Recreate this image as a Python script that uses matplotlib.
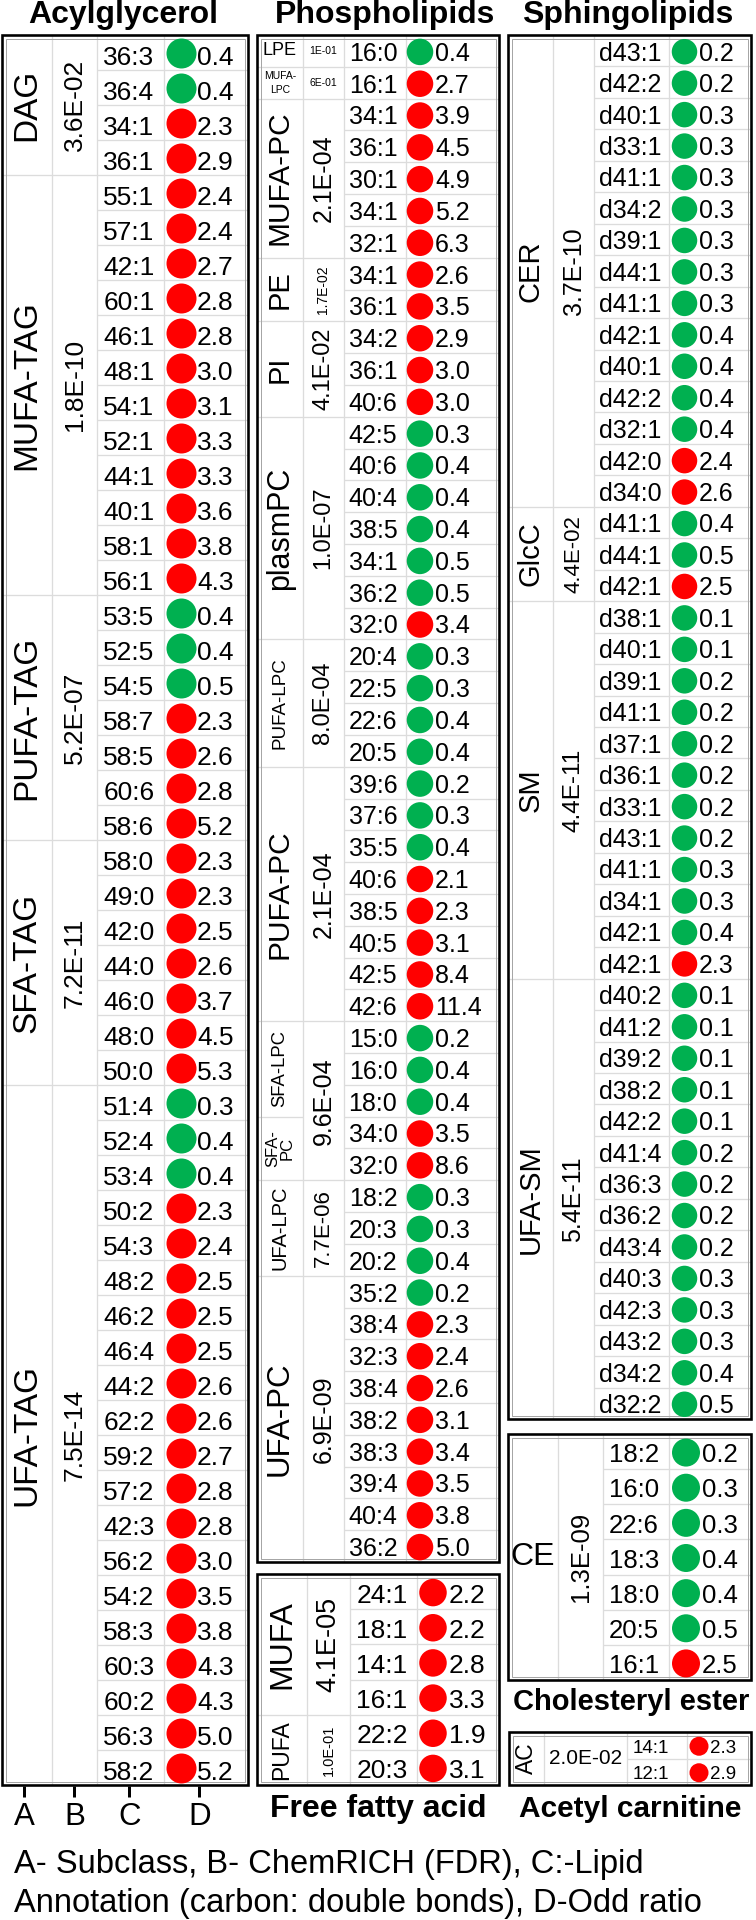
import matplotlib
matplotlib.use('Agg')
import matplotlib.pyplot as plt
from matplotlib.patches import Ellipse, Rectangle

plt.rcParams['font.family'] = ['Liberation Sans', 'DejaVu Sans']

# ------------------------------------------------------------------ data
acyl_subclass = ["DAG", "MUFA-TAG", "PUFA-TAG", "SFA-TAG", "UFA-TAG"]
acyl_counts = [4, 12, 7, 7, 20]
acyl_fdr = ["3.6E-02", "1.8E-10", "5.2E-07", "7.2E-11", "7.5E-14"]
acyl_lipids = ["36:3", "36:4", "34:1", "36:1",
               "55:1", "57:1", "42:1", "60:1", "46:1", "48:1", "54:1", "52:1", "44:1", "40:1", "58:1", "56:1",
               "53:5", "52:5", "54:5", "58:7", "58:5", "60:6", "58:6",
               "58:0", "49:0", "42:0", "44:0", "46:0", "48:0", "50:0",
               "51:4", "52:4", "53:4", "50:2", "54:3", "48:2", "46:2", "46:4", "44:2", "62:2",
               "59:2", "57:2", "42:3", "56:2", "54:2", "58:3", "60:3", "60:2", "56:3", "58:2"]
acyl_odds = [0.4, 0.4, 2.3, 2.9,
             2.4, 2.4, 2.7, 2.8, 2.8, 3.0, 3.1, 3.3, 3.3, 3.6, 3.8, 4.3,
             0.4, 0.4, 0.5, 2.3, 2.6, 2.8, 5.2,
             2.3, 2.3, 2.5, 2.6, 3.7, 4.5, 5.3,
             0.3, 0.4, 0.4, 2.3, 2.4, 2.5, 2.5, 2.5, 2.6, 2.6,
             2.7, 2.8, 2.8, 3.0, 3.5, 3.8, 4.3, 4.3, 5.0, 5.2]

phos_subclass = ["LPE", "MUFA-\nLPC", "MUFA-PC", "PE", "PI", "plasmPC", "PUFA-LPC", "PUFA-PC",
                 "SFA-LPC", "SFA-\nPC", "UFA-LPC", "UFA-PC"]
phos_counts = [1, 1, 5, 2, 3, 7, 4, 8, 3, 2, 3, 9]
phos_fdr = ["1E-01", "6E-01", "2.1E-04", "1.7E-02", "4.1E-02", "1.0E-07", "8.0E-04", "2.1E-04",
            "9.6E-04", "7.7E-06", "6.9E-09"]
phos_fdr_counts = [1, 1, 5, 2, 3, 7, 4, 8, 5, 3, 9]
phos_lipids = ["16:0", "16:1",
               "34:1", "36:1", "30:1", "34:1", "32:1",
               "34:1", "36:1",
               "34:2", "36:1", "40:6",
               "42:5", "40:6", "40:4", "38:5", "34:1", "36:2", "32:0",
               "20:4", "22:5", "22:6", "20:5",
               "39:6", "37:6", "35:5", "40:6", "38:5", "40:5", "42:5", "42:6",
               "15:0", "16:0", "18:0",
               "34:0", "32:0",
               "18:2", "20:3", "20:2",
               "35:2", "38:4", "32:3", "38:4", "38:2", "38:3", "39:4", "40:4", "36:2"]
phos_odds = [0.4, 2.7,
             3.9, 4.5, 4.9, 5.2, 6.3,
             2.6, 3.5,
             2.9, 3.0, 3.0,
             0.3, 0.4, 0.4, 0.4, 0.5, 0.5, 3.4,
             0.3, 0.3, 0.4, 0.4,
             0.2, 0.3, 0.4, 2.1, 2.3, 3.1, 8.4, 11.4,
             0.2, 0.4, 0.4,
             3.5, 8.6,
             0.3, 0.3, 0.4,
             0.2, 2.3, 2.4, 2.6, 3.1, 3.4, 3.5, 3.8, 5.0]

sphingo_subclass = ["CER", "GlcC", "SM", "UFA-SM"]
sphingo_counts = [15, 3, 12, 14]
sphingo_fdr = ["3.7E-10", "4.4E-02", "4.4E-11", "5.4E-11"]
sphingo_lipids = ["d43:1", "d42:2", "d40:1", "d33:1", "d41:1", "d34:2", "d39:1", "d44:1", "d41:1",
                  "d42:1", "d40:1", "d42:2", "d32:1", "d42:0", "d34:0",
                  "d41:1", "d44:1", "d42:1",
                  "d38:1", "d40:1", "d39:1", "d41:1", "d37:1", "d36:1", "d33:1", "d43:1", "d41:1",
                  "d34:1", "d42:1", "d42:1",
                  "d40:2", "d41:2", "d39:2", "d38:2", "d42:2", "d41:4", "d36:3", "d36:2", "d43:4",
                  "d40:3", "d42:3", "d43:2", "d34:2", "d32:2"]
sphingo_odds = [0.2, 0.2, 0.3, 0.3, 0.3, 0.3, 0.3, 0.3, 0.3, 0.4, 0.4, 0.4, 0.4, 2.4, 2.6,
                0.4, 0.5, 2.5,
                0.1, 0.1, 0.2, 0.2, 0.2, 0.2, 0.2, 0.2, 0.3, 0.3, 0.4, 2.3,
                0.1, 0.1, 0.1, 0.1, 0.1, 0.2, 0.2, 0.2, 0.2, 0.3, 0.3, 0.3, 0.4, 0.5]

ce_subclass = ["CE"]
ce_counts = [7]
ce_fdr = ["1.3E-09"]
ce_lipids = ["18:2", "16:0", "22:6", "18:3", "18:0", "20:5", "16:1"]
ce_odds = [0.2, 0.3, 0.3, 0.4, 0.4, 0.5, 2.5]

ffa_subclass = ["MUFA", "PUFA"]
ffa_counts = [4, 2]
ffa_fdr = ["4.1E-05", "1.0E-01"]
ffa_lipids = ["24:1", "18:1", "14:1", "16:1", "22:2", "20:3"]
ffa_odds = [2.2, 2.2, 2.8, 3.3, 1.9, 3.1]

ac_subclass = ["AC"]
ac_counts = [2]
ac_fdr = ["2.0E-02"]
ac_lipids = ["14:1", "12:1"]
ac_odds = [2.3, 2.9]

axis_letters = ["A", "B", "C", "D"]
legend_lines = ["A- Subclass, B- ChemRICH (FDR), C:-Lipid",
                "Annotation (carbon: double bonds), D-Odd ratio"]

# ------------------------------------------------------------------ drawing
W, H = 756, 1920
fig = plt.figure(figsize=(W / 100, H / 100), dpi=100)
ax = fig.add_axes([0, 0, 1, 1])
ax.set_xlim(0, W)
ax.set_ylim(H, 0)
ax.axis('off')

PX = 0.72
GRID = '#dcdcdc'
GREEN = '#00b050'
RED = '#ff0000'


def hline(x0, x1, y, color=GRID, lw=1.3):
    ax.plot([x0, x1], [y, y], color=color, lw=lw * PX, solid_capstyle='butt', zorder=1)


def vline(x, y0, y1, color=GRID, lw=1.3):
    ax.plot([x, x], [y0, y1], color=color, lw=lw * PX, solid_capstyle='butt', zorder=1)


def frame(x0, y0, x1, y1):
    ax.add_patch(Rectangle((x0 + 3.5, y0 + 3.5), x1 - x0 - 7, y1 - y0 - 7, fill=False,
                           ec='#a6a6a6', lw=1.0 * PX, zorder=2))
    ax.add_patch(Rectangle((x0, y0), x1 - x0, y1 - y0, fill=False, ec='black',
                           lw=2.6 * PX, zorder=3))


def groups(labels, counts, styles, xa, xb, y0, rh, line_x0, line_x1):
    start = 0
    for lab, cnt, st in zip(labels, counts, styles):
        ya = y0 + start * rh
        yb = y0 + (start + cnt) * rh
        if start > 0:
            hline(line_x0, line_x1, ya)
        fs, rot = st[0], st[1]
        ls = st[2] if len(st) > 2 else 1.2
        ax.text((xa + xb) / 2 + (st[3] if len(st) > 3 else 0), (ya + yb) / 2, lab,
                fontsize=fs, rotation=rot, ha='center', va='center',
                multialignment='center', linespacing=ls, zorder=4)
        start += cnt


def panel(box, cols, a_lab, a_cnt, a_sty, b_lab, b_cnt, b_sty, lipids, odds,
          ccx, cfs, cx, dia, vx, vfs, toff=2.0):
    x0, y0, x1, y1 = box
    ca, cb, cc = cols
    n = len(lipids)
    rh = (y1 - y0) / n
    for c in cols:
        vline(c, y0, y1)
    for i in range(1, n):
        hline(cb, x1, y0 + i * rh)
    groups(a_lab, a_cnt, a_sty, x0, ca, y0, rh, x0, ca)
    groups(b_lab, b_cnt, b_sty, ca, cb, y0, rh, ca, cb)
    for i, (lip, o) in enumerate(zip(lipids, odds)):
        yc = y0 + (i + 0.5) * rh
        base = yc + 0.5 * 0.716 * cfs / PX + toff
        ax.text(ccx, base, lip, fontsize=cfs, ha='center', va='baseline', zorder=4)
        ax.add_patch(Ellipse((cx, yc + 1.0), dia, dia, color=GREEN if o < 1 else RED,
                             lw=0, zorder=4))
        vb = yc + 0.5 * 0.716 * vfs / PX + toff
        ax.text(vx, vb, f'{o:.1f}', fontsize=vfs, ha='left', va='baseline', zorder=5)
    frame(x0, y0, x1, y1)


# Acylglycerol
panel((2, 35, 248, 1785), (52, 97, 164),
      acyl_subclass, acyl_counts, [(24, 90)] * 5,
      acyl_fdr, acyl_counts, [(19, 90)] * 5,
      acyl_lipids, acyl_odds, 129, 19, 181.5, 30, 197, 19, toff=3.0)

# Phospholipids
phos_a_styles = [(13, 0), (7.5, 0, 1.45), (21.5, 90), (21, 90), (21, 90), (22, 90), (13.5, 90),
                 (21.5, 90), (13.3, 90), (12, 90, 1.0), (14.5, 90), (22.5, 90)]
phos_b_styles = [(7.5, 0), (7.5, 0), (18, 90), (10, 90), (17, 90), (17, 90), (17, 90),
                 (18, 90), (18, 90), (16, 90), (18, 90)]
panel((257, 35, 499, 1562), (303, 344, 406),
      phos_subclass, phos_counts, phos_a_styles,
      phos_fdr, phos_fdr_counts, phos_b_styles,
      phos_lipids, phos_odds, 373, 18, 420, 26.5, 435, 18, toff=1.0)

# Sphingolipids
panel((508, 35, 751, 1419), (553, 594, 669),
      sphingo_subclass, sphingo_counts, [(21, 90)] * 4,
      sphingo_fdr, sphingo_counts, [(18, 90), (16, 90), (17.5, 90), (18, 90)],
      sphingo_lipids, sphingo_odds, 630, 18, 684.5, 25.5, 699, 18, toff=1.0)

# Cholesteryl ester
panel((508, 1434, 751, 1680), (558, 603, 669),
      ce_subclass, ce_counts, [(23, 0)],
      ce_fdr, ce_counts, [(18.5, 90)],
      ce_lipids, ce_odds, 634, 18.5, 686, 28, 702, 18.5, toff=1.5)

# Free fatty acid
panel((257, 1574, 499, 1785), (307, 350, 417),
      ffa_subclass, ffa_counts, [(23, 90), (16.5, 90)],
      ffa_fdr, ffa_counts, [(19.5, 90), (10.5, 90)],
      ffa_lipids, ffa_odds, 382, 19, 433, 27.5, 449, 19, toff=1.5)

# Acetyl carnitine
panel((509, 1732, 751, 1785), (544, 627, 687),
      ac_subclass, ac_counts, [(16.5, 90)],
      ac_fdr, ac_counts, [(15, 0)],
      ac_lipids, ac_odds, 651, 13.5, 699, 19, 710, 13.5, toff=1.0)

# titles
ax.text(123, 15, "Acylglycerol", fontsize=23, fontweight='bold', ha='center', va='center')
ax.text(385, 15, "Phospholipids", fontsize=23, fontweight='bold', ha='center', va='center')
ax.text(628, 15, "Sphingolipids", fontsize=23, fontweight='bold', ha='center', va='center')
ax.text(631, 1702, "Cholesteryl ester", fontsize=21, fontweight='bold', ha='center', va='center')
ax.text(378, 1809, "Free fatty acid", fontsize=23, fontweight='bold', ha='center', va='center')
ax.text(630, 1809, "Acetyl carnitine", fontsize=21.5, fontweight='bold', ha='center', va='center')

# column letters under the acylglycerol table
for lx, lab in zip([23.5, 73.5, 129, 199], axis_letters):
    ax.plot([lx, lx], [1786, 1797], color='black', lw=3 * PX, solid_capstyle='butt')
    ax.text(lx + 1, 1825, lab, fontsize=22.5, ha='center', va='baseline')

# legend text
ax.text(14, 1873, legend_lines[0], fontsize=23.5, ha='left', va='baseline')
ax.text(14, 1912, legend_lines[1], fontsize=23.5, ha='left', va='baseline')

fig.savefig('out.png', dpi=100)
